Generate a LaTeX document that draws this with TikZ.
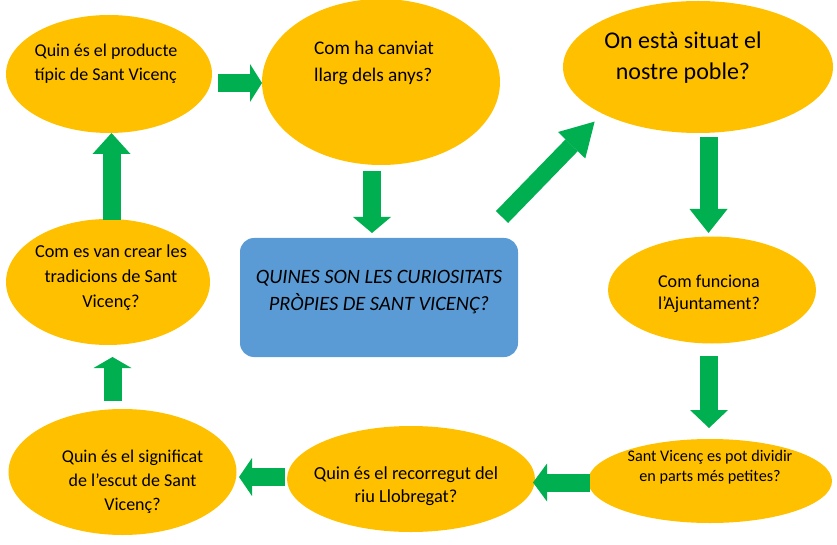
\documentclass[tikz,border=0pt]{standalone}
\usepackage{fontspec}
\setmainfont{Carlito}
\usetikzlibrary{shapes.geometric,arrows.meta}
\definecolor{bubblefill}{HTML}{FFC000}
\definecolor{arrowgreen}{HTML}{00B050}
\definecolor{boxblue}{HTML}{5B9BD5}
\tikzset{bigarrow/.style={draw=arrowgreen,line width=18pt,-{Triangle[width=38pt,length=#1,line width=0pt]}},
  bigarrow/.default=16pt}

\begin{document}
\begin{tikzpicture}[x=1pt,y=-1pt]
        \tikzstyle{every node}+=[inner sep=0pt,outer sep=0pt]
        \tikzstyle{bubble}=[ellipse,fill=bubblefill]
        \tikzstyle{qtext}=[align=center,text=black]
        \useasboundingbox (0,0) rectangle (837,545);
        % shapes
        \node [bubble,minimum width=206pt,minimum height=118pt] (e1) at (109,74) {};
        \node [bubble,minimum width=238pt,minimum height=166pt] (e2) at (381,82) {};
        \node [bubble,minimum width=270pt,minimum height=132pt] (e3) at (698,67) {};
        \node [bubble,minimum width=204pt,minimum height=126pt] (e4) at (108,282) {};
        \node [fill=boxblue,rounded corners=14pt,minimum width=278pt,minimum height=119pt] (box) at (379,297.5) {};
        \node [bubble,minimum width=208pt,minimum height=107pt] (e6) at (712,290) {};
        \node [bubble,minimum width=244pt,minimum height=84pt] (e7) at (710,481) {};
        \node [bubble,minimum width=248pt,minimum height=106pt] (e8) at (411,479) {};
        \node [bubble,minimum width=228pt,minimum height=126pt] (e9) at (122.5,472) {};
        % texts
        \node [qtext,align=left,font=\fontsize{18}{24}\selectfont] (t1) at ([xshift=-3pt,yshift=10pt]e1.center) {Quin és el producte\\típic de Sant Vicenç};
        \node [qtext,align=left,font=\fontsize{19.3}{27}\selectfont] (t2) at ([xshift=-7pt,yshift=19pt]e2.center) {Com ha canviat\\llarg dels anys?};
        \node [qtext,font=\fontsize{24}{31}\selectfont] (t3) at ([xshift=-15pt,yshift=9pt]e3.center) {On està situat el\\nostre poble?};
        \node [qtext,font=\fontsize{18.3}{25}\selectfont] (t4) at ([xshift=3pt,yshift=4pt]e4.center) {Com es van crear les\\tradicions de Sant\\Vicenç?};
        \node [qtext,font=\fontsize{20.4}{27}\selectfont\itshape] (tbox) at ([yshift=5pt]box.center) {QUINES SON LES CURIOSITATS\\PRÒPIES DE SANT VICENÇ?};
        \node [qtext,font=\fontsize{18.1}{22}\selectfont] (t6) at ([xshift=-3pt,yshift=-4pt]e6.center) {Com funciona\\l’Ajuntament?};
        \node [qtext,font=\fontsize{16.2}{20}\selectfont] (t7) at ([yshift=14pt]e7.center) {Sant Vicenç es pot dividir\\en parts més petites?};
        \node [qtext,font=\fontsize{18.4}{23}\selectfont] (t8) at ([xshift=-5pt,yshift=-7pt]e8.center) {Quin és el recorregut del\\riu Llobregat?};
        \node [qtext,font=\fontsize{18}{24}\selectfont] (t9) at ([xshift=10pt,yshift=-10pt]e9.center) {Quin és el significat\\de l’escut de Sant\\Vicenç?};
        % arrows
        \draw [bigarrow=12pt] ([xshift=6pt,yshift=-9pt]e1.east) -- ([yshift=-1pt]e2.west);
        \draw [bigarrow=16pt] ([xshift=-9pt,yshift=-6pt]e2.south) -- ([xshift=-7pt,yshift=5pt]box.north);
        \draw [bigarrow=33pt,line width=17pt] ([xshift=-16pt,yshift=21pt]box.north east) -- ([xshift=-12pt,yshift=-6pt]e3.208);
        \draw [bigarrow=24pt] ([xshift=10.5pt,yshift=-4pt]e3.south) -- ([xshift=-3.5pt,yshift=3.5pt]e6.north);
        \draw [bigarrow=18pt] ([xshift=-3pt,yshift=-12.5pt]e6.south) -- ([xshift=-1pt,yshift=11pt]e7.north);
        \draw [bigarrow=14pt] ([xshift=2pt,yshift=-1.5pt]e7.west) -- ([xshift=-2pt,yshift=-3.5pt]e8.east);
        \draw [bigarrow=13pt] ([xshift=-2pt,yshift=2pt]e8.west) -- ([xshift=2.5pt,yshift=-5pt]e9.east);
        \draw [bigarrow=11pt] ([xshift=-10pt,yshift=8pt]e9.north) -- ([xshift=4.5pt,yshift=-12pt]e4.south);
        \draw [bigarrow=21pt] ([xshift=3.5pt,yshift=-1pt]e4.north) -- ([xshift=2.5pt]e1.south);
\end{tikzpicture}
\end{document}
